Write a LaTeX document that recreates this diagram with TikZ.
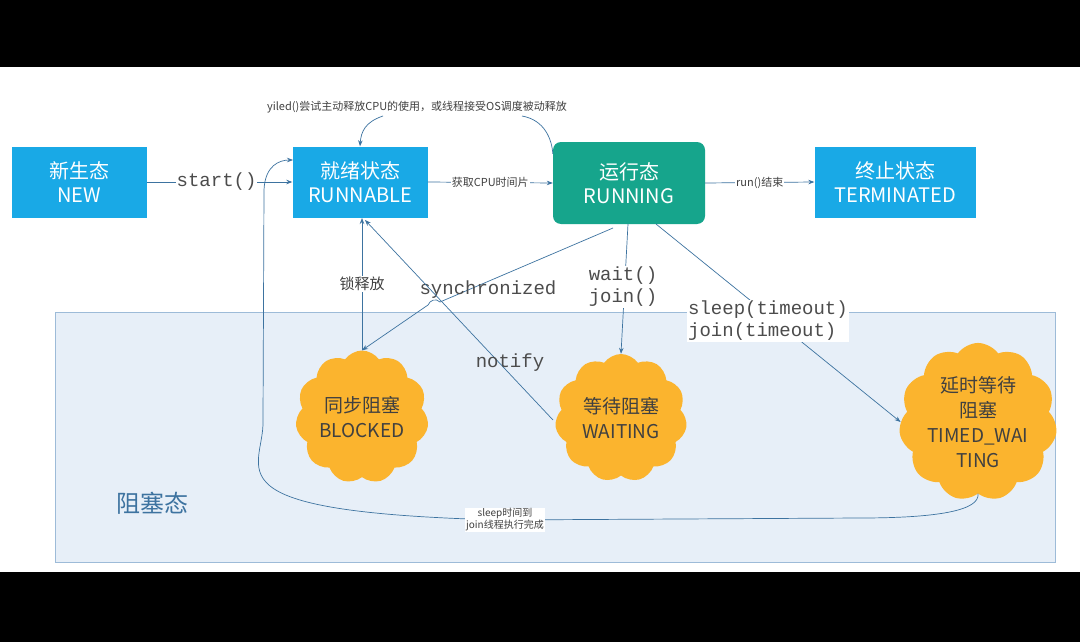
\documentclass[tikz,border=0pt]{standalone}
\usepackage{fontspec}
\setmainfont{Noto Sans CJK SC}
\newfontfamily\codef{Liberation Mono}
\usetikzlibrary{shapes.symbols,arrows.meta}
\definecolor{bluebox}{HTML}{19A9E6}
\definecolor{tealbox}{HTML}{16A58C}
\definecolor{cloudc}{HTML}{FBB42E}
\definecolor{line}{HTML}{3D73A0}
\definecolor{region}{HTML}{E7EFF8}
\definecolor{regionb}{HTML}{9DBBD8}
\begin{document}
\begin{tikzpicture}[x=1pt,y=-1pt,
  sbox/.style={fill=bluebox,text=white,minimum width=135pt,minimum height=71pt,align=center,font=\fontsize{20}{24}\selectfont,inner sep=0pt},
  cl/.style={cloud,cloud puffs=11,cloud puff arc=110,fill=cloudc,minimum width=132pt,minimum height=128pt,align=center,font=\fontsize{19}{25}\selectfont,text=black!75,inner sep=0pt,aspect=1},
  conn/.style={draw=line,line width=0.7pt,-{Stealth[length=6pt]}},
  lab/.style={font=\fontsize{19}{22}\selectfont\codef,text=black!70,fill=white,inner sep=1pt},
  slab/.style={font=\fontsize{10}{12}\selectfont,text=black!75,inner sep=1pt}]
\useasboundingbox (0,0) rectangle (1080,642);
\fill[white] (0,0) rectangle (1080,642);
\fill[black] (0,0) rectangle (1080,67);
\fill[black] (0,572) rectangle (1080,642);
\node[draw=regionb,fill=region,minimum width=1000pt,minimum height=250pt,inner sep=0pt] (region) at (555,437) {};
\node[font=\fontsize{24}{28}\selectfont,text=line] (zs) at (152,503) {阻塞态};
\node[sbox] (new) at (79,182) {新生态\\NEW};
\node[sbox] (rb) at (360,182) {就绪状态\\RUNNABLE};
\node[sbox,fill=tealbox,rounded corners=8pt,minimum width=152pt,minimum height=82pt] (rn) at (629,183) {运行态\\RUNNING};
\node[sbox,minimum width=161pt] (term) at (895,182) {终止状态\\TERMINATED};
\node[cl] (bl) at (362,417) {同步阻塞\\BLOCKED};
\node[cl] (wt) at (621,418) {等待阻塞\\WAITING};
\node[cl,minimum width=138pt,minimum height=132pt] (tw) at (978,422) {延时等待\\阻塞\\TIMED\_WAI\\TING};
% top
\draw[conn] (new.east) -- node[lab,pos=0.48]{start()} (rb.west);
\draw[conn] (rb.east) -- node[slab,fill=white,font=\fontsize{11}{13}\selectfont]{获取CPU时间片} (rn.west);
\draw[conn] (rn.east) -- node[slab,fill=white,font=\fontsize{11}{13}\selectfont]{run()结束} (term.west);
\node[slab,font=\fontsize{11}{13}\selectfont] (yl) at (417,107) {yiled()尝试主动释放CPU的使用，或线程接受OS调度被动释放};
\draw[conn] (383,116) .. controls (365,122) and (361,132) .. (rb.north);
\draw[draw=line,line width=0.7pt] (rn.north west) ++(0,12) .. controls (552,140) and (545,120) .. (522,116);
% blocked
\draw[conn] (bl.north) -- node[slab,fill=region,pos=0.5,font=\fontsize{15}{18}\selectfont,fill=white]{锁释放} (362,218);
\draw[conn] (613,228) -- (440,302) .. controls (436,298) and (430,300) .. (428,305) -- (bl.north);
\node[lab,fill=none] at (488,290) {synchronized};
\draw[conn] (553,420) -- (365,220);
\node[lab,fill=none] at (510,363) {notify};
\draw[conn] (628,224) -- (wt.north);
\node[lab,align=left] at (623,287) {wait()\\join()};
\draw[conn] (656,224) -- (tw.west);
\node[lab,align=left] at (768,321) {sleep(timeout)\\join(timeout)};
\draw[conn] (tw.south) .. controls (980,510) and (940,518) .. (860,518) -- (500,520) .. controls (200,512) and (265,470) .. (263,420) -- (264,190) .. controls (265,165) and (280,160) .. (293,160);
\node[slab,fill=white,align=center] at (505,520) {sleep时间到\\join线程执行完成};
\end{tikzpicture}
\end{document}
